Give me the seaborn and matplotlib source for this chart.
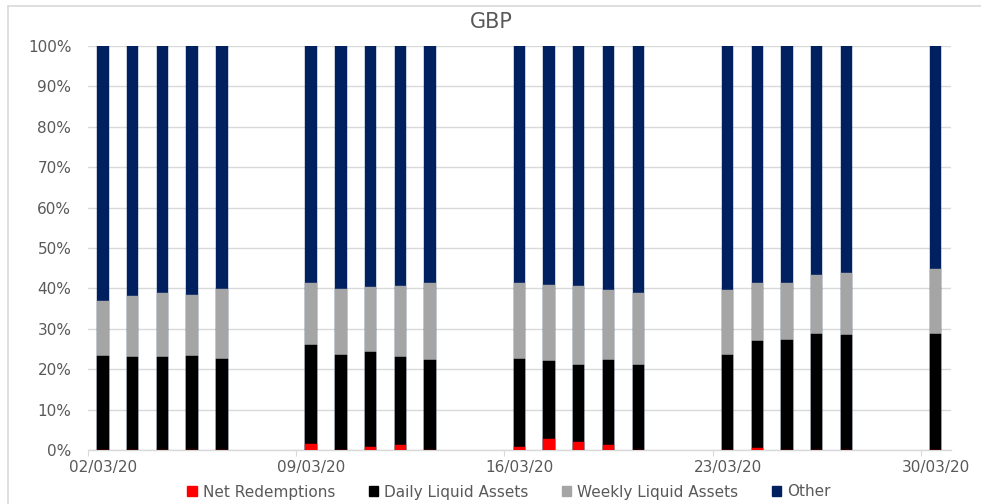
import matplotlib
matplotlib.use("Agg")
import matplotlib.pyplot as plt
from matplotlib.lines import Line2D
from matplotlib.patches import Patch
from matplotlib.ticker import FixedLocator, PercentFormatter
import seaborn as sns
import pandas as pd
import numpy as np

dates = ["02/03/20", "03/03/20", "04/03/20", "05/03/20", "06/03/20",
         "09/03/20", "10/03/20", "11/03/20", "12/03/20", "13/03/20",
         "16/03/20", "17/03/20", "18/03/20", "19/03/20", "20/03/20",
         "23/03/20", "24/03/20", "25/03/20", "26/03/20", "27/03/20",
         "30/03/20"]
net_redemptions = [0, 0, 0, 0, 0,
                   1.6, 0, 0.7, 1.2, 0,
                   0.7, 2.8, 2.0, 1.2, 0,
                   0, 0.5, 0, 0, 0,
                   0]
daily_liquid = [23.2, 22.9, 23.1, 23.2, 22.5,
                24.4, 23.6, 23.5, 21.7, 22.2,
                21.9, 19.3, 19.0, 21.0, 21.0,
                23.4, 26.5, 27.2, 28.7, 28.5,
                28.7]
weekly_liquid = [13.8, 15.1, 15.7, 15.2, 17.3,
                 15.4, 16.2, 16.2, 17.7, 19.2,
                 18.8, 18.8, 19.6, 17.3, 17.9,
                 16.1, 14.4, 14.1, 14.5, 15.2,
                 16.0]
other = [63.0, 62.0, 61.2, 61.6, 60.2,
         58.6, 60.2, 59.6, 59.4, 58.6,
         58.6, 59.1, 59.4, 60.5, 61.1,
         60.5, 58.6, 58.7, 56.8, 56.3,
         55.3]
tick_labels = ["02/03/20", "09/03/20", "16/03/20", "23/03/20", "30/03/20"]
series_names = ["Net Redemptions", "Daily Liquid Assets", "Weekly Liquid Assets", "Other"]
colors = ["#FF0000", "#000000", "#A5A5A5", "#002060"]

sns.set_theme(style="white")
plt.rcParams["font.family"] = ["DejaVu Sans"]
text_color = "#595959"
grid_color = "#D9D9D9"

dt = pd.to_datetime(dates, format="%d/%m/%y")
start = dt.min()
offset = (dt - start).days.astype(float)

df = pd.DataFrame({
    "offset": offset,
    "Net Redemptions": np.array(net_redemptions) / 100,
    "Daily Liquid Assets": np.array(daily_liquid) / 100,
    "Weekly Liquid Assets": np.array(weekly_liquid) / 100,
    "Other": np.array(other) / 100,
})
cum = df[series_names].cumsum(axis=1)

fig = plt.figure(figsize=(9.81, 5.04), dpi=100)
W, H = 981, 504
ax = fig.add_axes([88 / W, 1 - 450 / H, (950.7 - 88) / W, (450 - 46) / H])

# stacked bars: draw cumulative totals from top to bottom
for name, col in reversed(list(zip(series_names, colors))):
    sns.barplot(x=df["offset"], y=cum[name], native_scale=True, color=col,
                width=0.38, errorbar=None, ax=ax, saturation=1,
                edgecolor=col, linewidth=0.3, zorder=3)

ax.set_xlim(-0.5, 28.5)
ax.set_ylim(0, 1)
ax.set_xlabel("")
ax.set_ylabel("")

tick_pos = [((pd.to_datetime(t, format="%d/%m/%y") - start).days) for t in tick_labels]
ax.xaxis.set_major_locator(FixedLocator(tick_pos))
ax.set_xticklabels(tick_labels)
ax.xaxis.set_minor_locator(FixedLocator([p - 0.5 for p in tick_pos]))
ax.tick_params(axis="x", which="major", length=0, pad=7, labelsize=11, labelcolor=text_color)
ax.tick_params(axis="x", which="minor", length=4, width=0.8, color=grid_color, bottom=True)

ax.set_yticks(np.arange(0, 1.01, 0.1))
ax.yaxis.set_major_formatter(PercentFormatter(1.0, decimals=0))
ax.tick_params(axis="y", length=0, pad=12, labelsize=11, labelcolor=text_color)
ax.grid(axis="y", color=grid_color, linewidth=1, zorder=0)
ax.grid(axis="x", visible=False)
ax.set_axisbelow(True)

for s in ["top", "right", "left"]:
    ax.spines[s].set_visible(False)
ax.spines["bottom"].set_color(grid_color)
ax.spines["bottom"].set_linewidth(1)

fig.text(491 / W, 1 - 22 / H, "GBP", ha="center", va="center",
         fontsize=15, color=text_color)

handles = [Patch(facecolor=c, edgecolor=c) for c in colors]
fig.legend(handles, series_names, loc="center", bbox_to_anchor=(509 / W, 1 - 492 / H),
           ncol=4, frameon=False, fontsize=11, labelcolor=text_color,
           handlelength=0.6, handleheight=0.6, handletextpad=0.4, columnspacing=2.2)

# outer chart frame
fig.add_artist(Line2D([7.5 / W, 7.5 / W], [0, 1 - 5.5 / H], transform=fig.transFigure,
                      color=grid_color, linewidth=1.2))
fig.add_artist(Line2D([7.5 / W, 1], [1 - 5.5 / H, 1 - 5.5 / H], transform=fig.transFigure,
                      color=grid_color, linewidth=1.2))

fig.savefig("out.png", dpi=100, facecolor="white")
